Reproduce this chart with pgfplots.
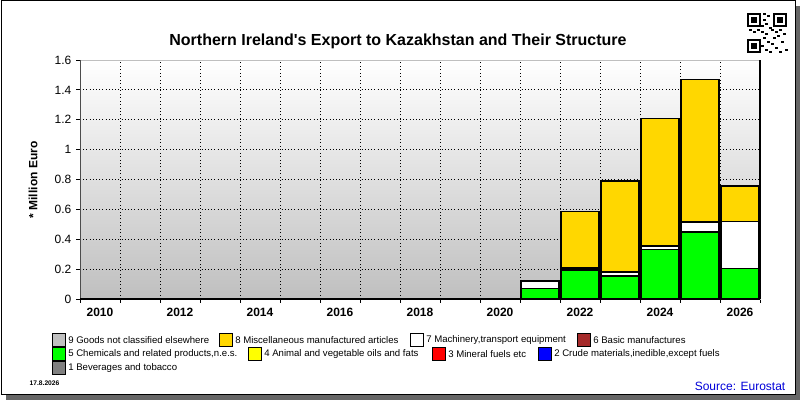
\documentclass[border=0pt]{standalone}
\usepackage{pgfplots}
\pgfplotsset{compat=1.18}
\usepackage{fontspec}
\setmainfont{Liberation Sans}

\definecolor{c9}{RGB}{192,192,192}
\definecolor{c8}{RGB}{255,215,0}
\definecolor{c7}{RGB}{255,255,255}
\definecolor{c6}{RGB}{165,42,42}
\definecolor{c5}{RGB}{0,255,0}
\definecolor{c4}{RGB}{255,255,0}
\definecolor{c3}{RGB}{255,0,0}
\definecolor{c2}{RGB}{0,0,255}
\definecolor{c1}{RGB}{128,128,128}

% legend entry in pixel units: x, y (centre), colour, text
\newcommand{\legentry}[4]{%
  \filldraw[fill=#3,draw=black,line width=0.75pt] (#1,#2-6.5) rectangle ++(13,13);
  \node[anchor=west,inner sep=0pt,font=\fontsize{7.2}{8}\selectfont] at (#1+16,#2) {#4};}

\begin{document}
\begin{tikzpicture}
\path[use as bounding box] (0,0) rectangle (600pt,300pt);
\begin{scope}[x=0.75pt,y=-0.75pt,yshift=300pt]
  % frame and shadow
  \fill[black!60] (6,6) rectangle (800,400);
  \filldraw[fill=white,draw=black,line width=0.75pt] (1,1) rectangle (795,395);
  % title
  \node[font=\bfseries\fontsize{12}{14}\selectfont] at (398,41)
    {Northern Ireland\textquotesingle s Export to Kazakhstan and Their Structure};
  % y label
  \node[rotate=90,font=\bfseries\fontsize{9}{10}\selectfont] at (33,180) {* Million Euro};
  % qr-like mark
  \foreach \qx/\qy in {747/13,773/13,747/39}{
    \fill[black] (\qx,\qy) rectangle ++(14,14);
    \fill[white] (\qx+2,\qy+2) rectangle ++(10,10);
    \fill[black] (\qx+4,\qy+4) rectangle ++(6,6);}
  \foreach \qx/\qy in {763/13,767/15,763/19,765/23,761/25,769/27,749/29,753/31,757/29,
                       761/31,765/33,771/29,775/31,779/29,783/33,777/35,773/37,763/37,
                       767/41,761/45,765/49,771/43,775/47,781/41,785/49,779/51,769/51}{
    \fill[black] (\qx,\qy) rectangle ++(2.5,2.5);}
  % legend
  \legentry{52}{340}{c9}{9 Goods not classified elsewhere}
  \legentry{219}{340}{c8}{8 Miscellaneous manufactured articles}
  \legentry{410}{340}{c7}{7 Machinery,transport equipment}
  \legentry{577}{340}{c6}{6 Basic manufactures}
  \legentry{52}{354}{c5}{5 Chemicals and related products,n.e.s.}
  \legentry{248}{354}{c4}{4 Animal and vegetable oils and fats}
  \legentry{432}{354}{c3}{3 Mineral fuels etc}
  \legentry{538}{354}{c2}{2 Crude materials,inedible,except fuels}
  \legentry{52}{368}{c1}{1 Beverages and tobacco}
  % footer
  \node[anchor=west,font=\bfseries\fontsize{5}{6}\selectfont] at (25,383) {17.8.2026};
  \node[anchor=east,text=blue!85!black,font=\fontsize{9}{10}\selectfont] at (790,386) {Source: Eurostat};
\end{scope}

\begin{axis}[
    name=ax,
    at={(60pt,75.75pt)}, anchor=south west,
    scale only axis, width=510pt, height=179.25pt,
    xmin=2009.5, xmax=2026.5, ymin=0, ymax=1.6,
    ybar stacked, bar width=28.5pt,
    xtick={2010,2012,2014,2016,2018,2020,2022,2024,2026},
    xticklabels={2010,2012,2014,2016,2018,2020,2022,2024,2026},
    minor xtick={2009.5,2010.5,...,2026.5},
    ytick={0,0.2,0.4,0.6,0.8,1,1.2,1.4,1.6},
    yticklabels={0,0.2,0.4,0.6,0.8,1,1.2,1.4,1.6},
    xminorgrids=true, ymajorgrids=true,
    grid style={black, dotted, line width=0.6pt},
    minor grid style={black, dotted, line width=0.6pt},
    xtick pos=left, ytick pos=left,
    tick align=outside,
    major x tick style={draw=none},
    minor x tick style={black, line width=0.6pt},
    major y tick style={black, line width=0.6pt},
    major tick length=3pt, minor tick length=3pt,
    tick label style={font=\fontsize{9}{10}\selectfont},
    xticklabel style={font=\bfseries\fontsize{9}{10}\selectfont},
    axis line style={draw=gray!50, line width=0.5pt},
    axis background/.style={top color=white, bottom color=black!25},
    every axis plot/.append style={draw=black, line width=1.1pt},
]
% 5 Chemicals and related products
\addplot[fill=c5] coordinates {(2021,0.07) (2022,0.195) (2023,0.155) (2024,0.33) (2025,0.45) (2026,0.205)};
% 7 Machinery, transport equipment
\addplot[fill=c7] coordinates {(2021,0.05) (2022,0.012) (2023,0.025) (2024,0.025) (2025,0.065) (2026,0.315)};
% 8 Miscellaneous manufactured articles
\addplot[fill=c8] coordinates {(2021,0) (2022,0.38) (2023,0.61) (2024,0.855) (2025,0.955) (2026,0.235)};
\end{axis}
\draw[black!70, line width=0.75pt] (ax.south west) -- (ax.north west);
\draw[black, line width=1.8pt] (ax.south east) -- (ax.north east);
\draw[black, line width=2.2pt] (ax.south west) -- (ax.south east);
\end{tikzpicture}
\end{document}
